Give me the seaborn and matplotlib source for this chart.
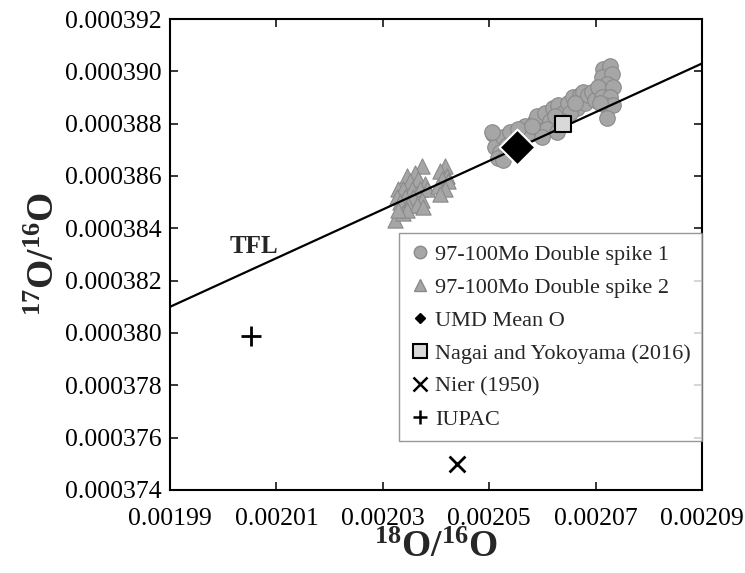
import matplotlib
matplotlib.use("Agg")
import matplotlib.pyplot as plt
from matplotlib.lines import Line2D
import seaborn as sns
import pandas as pd

# ---------------- data ----------------
ds1_x = [0.0020507, 0.0020517, 0.0020511, 0.0020526, 0.0020533, 0.0020520, 0.0020539, 0.0020530,
         0.0020505, 0.0020517, 0.0020526,
         0.0020567, 0.0020577, 0.0020586, 0.0020595, 0.0020590, 0.0020605, 0.0020614, 0.0020609,
         0.0020620, 0.0020629, 0.0020639, 0.0020648, 0.0020658, 0.0020665, 0.0020671, 0.0020680,
         0.0020676, 0.0020686, 0.0020652, 0.0020637, 0.0020599, 0.0020627,
         0.0020554, 0.0020580, 0.0020624, 0.0020661, 0.0020693, 0.0020699,
         0.0020714, 0.0020727, 0.0020712, 0.0020731, 0.0020721, 0.0020705, 0.0020733, 0.0020712,
         0.0020727, 0.0020718, 0.0020733, 0.0020721, 0.0020708]
ds1_y = [0.0003876, 0.0003874, 0.0003871, 0.0003875, 0.0003872, 0.0003869, 0.0003877, 0.0003869,
         0.0003877, 0.0003867, 0.0003866,
         0.0003879, 0.0003876, 0.0003881, 0.0003878, 0.0003883, 0.0003884, 0.0003881, 0.0003878,
         0.0003886, 0.0003887, 0.0003884, 0.0003888, 0.0003890, 0.0003886, 0.0003891, 0.0003888,
         0.0003892, 0.0003891, 0.0003884, 0.0003881, 0.0003875, 0.0003877,
         0.0003878, 0.0003879, 0.0003883, 0.0003888, 0.0003892, 0.0003889,
         0.0003901, 0.0003902, 0.0003898, 0.0003899, 0.0003895, 0.0003894, 0.0003894, 0.0003890,
         0.0003890, 0.0003887, 0.0003887, 0.0003882, 0.0003888]

ds2_x = [0.0020373, 0.0020345, 0.0020361, 0.0020351, 0.0020366, 0.0020379, 0.0020329, 0.0020338,
         0.0020355, 0.0020370, 0.0020383, 0.0020327, 0.0020342, 0.0020357, 0.0020374, 0.0020332,
         0.0020347, 0.0020364, 0.0020376, 0.0020323, 0.0020338, 0.0020346, 0.0020329,
         0.0020417, 0.0020408, 0.0020421, 0.0020411, 0.0020423, 0.0020404, 0.0020417, 0.0020408]
ds2_y = [0.0003864, 0.0003860, 0.0003861, 0.0003858, 0.0003859, 0.0003857, 0.0003855, 0.0003855,
         0.0003855, 0.0003855, 0.0003855, 0.0003852, 0.0003852, 0.0003852, 0.0003851, 0.0003850,
         0.0003849, 0.0003849, 0.0003848, 0.0003843, 0.0003846, 0.0003847, 0.0003847,
         0.0003864, 0.0003862, 0.0003860, 0.0003859, 0.0003858, 0.0003856, 0.0003855, 0.0003853]

umd_x = [0.0020552]
umd_y = [0.0003871]
nagai_x = [0.0020638]
nagai_y = [0.0003880]
nier_x = [0.0020439]
nier_y = [0.0003750]
iupac_x = [0.0020052]
iupac_y = [0.0003799]

tfl_x = [0.00199, 0.00209]
tfl_y = [0.0003810, 0.0003903]

x_ticks = [0.00199, 0.00201, 0.00203, 0.00205, 0.00207, 0.00209]
x_tick_labels = ["0.00199", "0.00201", "0.00203", "0.00205", "0.00207", "0.00209"]
y_ticks = [0.000374, 0.000376, 0.000378, 0.000380, 0.000382, 0.000384, 0.000386, 0.000388, 0.000390, 0.000392]
y_tick_labels = ["0.000374", "0.000376", "0.000378", "0.000380", "0.000382", "0.000384",
                 "0.000386", "0.000388", "0.000390", "0.000392"]

legend_labels = ["97-100Mo Double spike 1", "97-100Mo Double spike 2", "UMD Mean O",
                 "Nagai and Yokoyama (2016)", "Nier (1950)", "IUPAC"]

# ---------------- style ----------------
sns.set_style("ticks")
plt.rcParams["font.family"] = ["Liberation Serif", "DejaVu Serif"]
plt.rcParams["mathtext.fontset"] = "custom"
plt.rcParams["mathtext.rm"] = "Liberation Serif"
plt.rcParams["mathtext.bf"] = "Liberation Serif:bold"

fig = plt.figure(figsize=(7.45, 5.73), dpi=100)
ax = fig.add_axes([170 / 745, 1 - 490 / 573, 532 / 745, 471 / 573])

grey = "#a6a6a6"
grey_edge = "#8a8a8a"

df1 = pd.DataFrame({"x": ds1_x, "y": ds1_y})
df2 = pd.DataFrame({"x": ds2_x, "y": ds2_y})
sns.scatterplot(data=df1, x="x", y="y", ax=ax, marker="o", s=125, color=grey,
                edgecolor=grey_edge, linewidth=0.8, zorder=2)
sns.scatterplot(data=df2, x="x", y="y", ax=ax, marker="^", s=120, color=grey,
                edgecolor=grey_edge, linewidth=0.8, zorder=2)

sns.lineplot(x=tfl_x, y=tfl_y, ax=ax, color="black", linewidth=1.6, sort=False, zorder=3)

sns.scatterplot(x=umd_x, y=umd_y, ax=ax, marker="D", s=330, color="black",
                edgecolor="white", linewidth=1.5, zorder=4)
sns.scatterplot(x=nagai_x, y=nagai_y, ax=ax, marker="s", s=140, color="#d9d9d9",
                edgecolor="black", linewidth=1.5, zorder=4)
sns.scatterplot(x=nier_x, y=nier_y, ax=ax, marker="x", s=130, color="black",
                linewidth=2.0, zorder=4)
sns.scatterplot(x=iupac_x, y=iupac_y, ax=ax, marker="+", s=190, color="black",
                linewidth=2.0, zorder=4)

ax.text(0.0020058, 0.0003833, "TFL", fontsize=18, fontweight="bold", ha="center", va="center")

ax.set_xlim(x_ticks[0], x_ticks[-1])
ax.set_ylim(y_ticks[0], y_ticks[-1])
ax.set_xticks(x_ticks)
ax.set_xticklabels(x_tick_labels)
ax.set_yticks(y_ticks)
ax.set_yticklabels(y_tick_labels)
ax.tick_params(direction="in", length=6, width=1.1, top=True, right=True,
               labelsize=18.5, colors="black")
ax.tick_params(axis="x", pad=13)
ax.tick_params(axis="y", pad=6)
for sp in ax.spines.values():
    sp.set_visible(True)
    sp.set_linewidth(1.5)
    sp.set_color("black")

ax.set_xlabel(r"$\mathbf{^{18}O/^{16}O}$", fontsize=27, labelpad=0)
ax.set_ylabel(r"$\mathbf{^{17}O/^{16}O}$", fontsize=27, labelpad=2)

handles = [
    Line2D([], [], linestyle="none", marker="o", markersize=9, markerfacecolor=grey, markeredgecolor=grey_edge),
    Line2D([], [], linestyle="none", marker="^", markersize=9, markerfacecolor=grey, markeredgecolor=grey_edge),
    Line2D([], [], linestyle="none", marker="D", markersize=5, markerfacecolor="black", markeredgecolor="black"),
    Line2D([], [], linestyle="none", marker="s", markersize=10, markerfacecolor="#d9d9d9", markeredgecolor="black", markeredgewidth=1.5),
    Line2D([], [], linestyle="none", marker="x", markersize=10, color="black", markeredgewidth=1.8),
    Line2D([], [], linestyle="none", marker="+", markersize=10, color="black", markeredgewidth=1.8),
]
leg = ax.legend(handles, legend_labels, loc="upper left", bbox_to_anchor=(0.43, 0.106, 0.57, 0.44),
                mode="expand", frameon=True, fancybox=False, fontsize=16, handlelength=0.9,
                handletextpad=0.25, labelspacing=0.56, borderpad=0.5, borderaxespad=0)
leg.get_frame().set_edgecolor("#7f7f7f")
leg.get_frame().set_linewidth(1.0)
leg.set_zorder(5)

fig.savefig("out.png", dpi=100)
